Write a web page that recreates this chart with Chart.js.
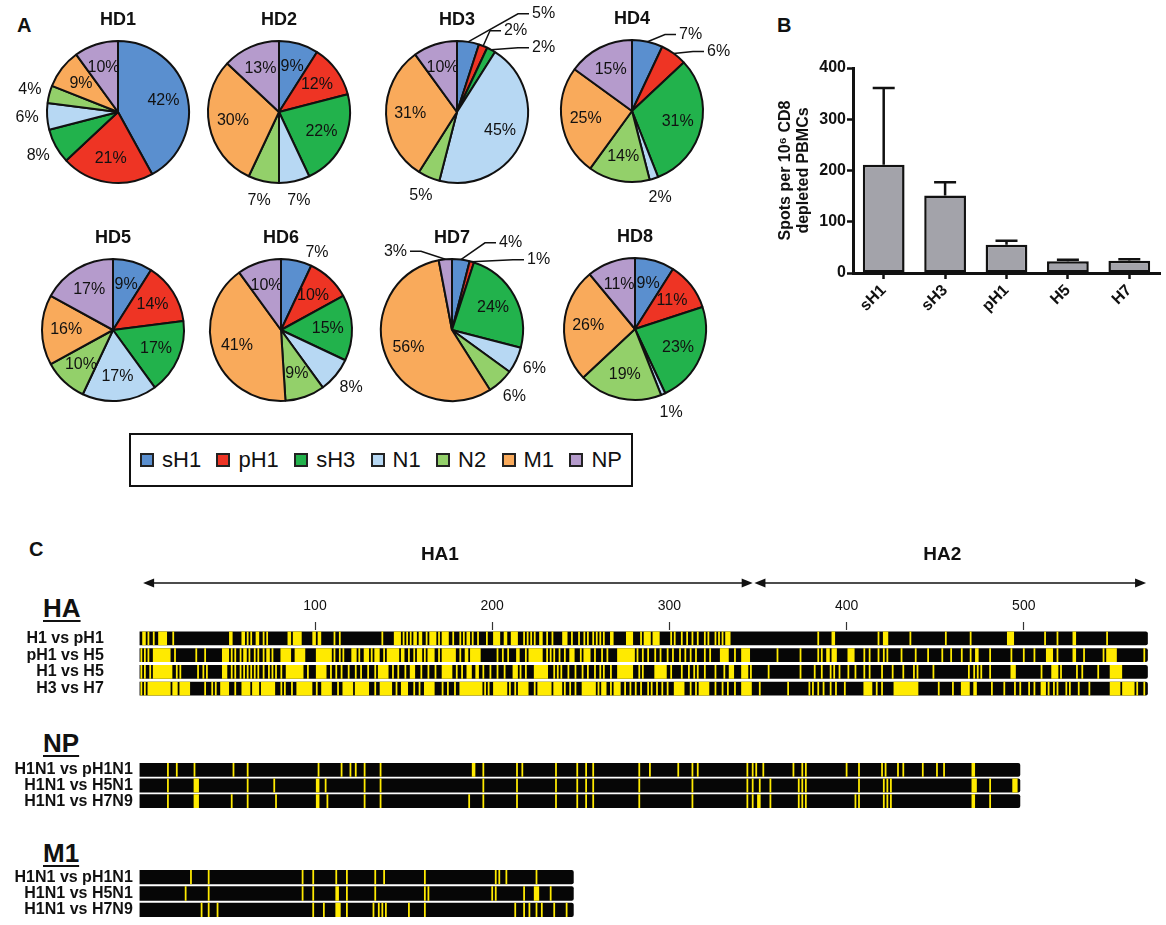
<!DOCTYPE html>
<html lang="en">
<head>
<meta charset="utf-8">
<title>Influenza antigen responses</title>
<script src="https://cdn.jsdelivr.net/npm/chart.js@4.4.1/dist/chart.umd.min.js"></script>
<style>
  html, body { margin: 0; padding: 0; background: #fff; }
  #figure { position: relative; width: 1166px; height: 925px; overflow: hidden; background: #fff;
            font-family: "Liberation Sans", Arial, Helvetica, sans-serif; color: #111; }
  #figure canvas { position: absolute; }
  .tag { position: absolute; font-weight: bold; line-height: 1; white-space: nowrap; }
  .panel { font-size: 20px; }
  .gene { font-size: 26px; text-decoration: underline; text-decoration-thickness: 2px; text-underline-offset: 3px; }
  #legend { position: absolute; left: 129px; top: 433px; width: 504px; height: 54px; box-sizing: border-box;
            border: 2px solid #111; display: flex; align-items: center; justify-content: space-between; padding: 0 9px; }
  .item { display: flex; align-items: center; font-size: 22px; line-height: 1; }
  .swatch { width: 14px; height: 14px; box-sizing: border-box; border: 2px solid #222; margin-right: 8px; }
</style>
</head>
<body>
<div id="figure">
  <div class="tag panel" style="left:17px;top:15px">A</div>
  <div class="tag panel" style="left:777px;top:15px">B</div>
  <div class="tag panel" style="left:29px;top:539px">C</div>
  <div class="tag gene" style="left:43px;top:595px">HA</div>
  <div class="tag gene" style="left:43px;top:730px">NP</div>
  <div class="tag gene" style="left:43px;top:840px">M1</div>
  <div id="legend"></div>

  <canvas id="hd1" width="240" height="230" style="left:-2px;top:-3px"></canvas>
  <canvas id="hd2" width="240" height="230" style="left:159px;top:-3px"></canvas>
  <canvas id="hd3" width="240" height="230" style="left:337px;top:-3px"></canvas>
  <canvas id="hd4" width="240" height="230" style="left:512px;top:-4px"></canvas>
  <canvas id="hd5" width="240" height="230" style="left:-7px;top:215px"></canvas>
  <canvas id="hd6" width="240" height="230" style="left:161px;top:215px"></canvas>
  <canvas id="hd7" width="240" height="230" style="left:332px;top:215px"></canvas>
  <canvas id="hd8" width="240" height="230" style="left:515px;top:214px"></canvas>

  <canvas id="spots" width="426" height="300" style="left:740px;top:40px"></canvas>

  <canvas id="haMap" width="1166" height="170" style="left:0;top:530px"></canvas>
  <canvas id="npMap" width="1166" height="58" style="left:0;top:755px"></canvas>
  <canvas id="m1Map" width="1166" height="60" style="left:0;top:862px"></canvas>
</div>

<script>
// ---- panel A : antigen share per donor (%) ----
const antigens = ['sH1', 'pH1', 'sH3', 'N1', 'N2', 'M1', 'NP'];
const antigenColors = ['#5A8FCF', '#EE3424', '#22B24C', '#B7D8F3', '#93D06A', '#F9AA5B', '#B59BCC'];
const donors = ['HD1', 'HD2', 'HD3', 'HD4', 'HD5', 'HD6', 'HD7', 'HD8'];
const hd1 = [42, 21, 8, 6, 4, 9, 10];
const hd2 = [9, 12, 22, 7, 7, 30, 13];
const hd3 = [5, 2, 2, 45, 5, 31, 10];
const hd4 = [7, 6, 31, 2, 14, 25, 15];
const hd5 = [9, 14, 17, 17, 10, 16, 17];
const hd6 = [7, 10, 15, 8, 9, 41, 10];
const hd7 = [4, 1, 24, 6, 6, 56, 3];
const hd8 = [9, 11, 23, 1, 19, 26, 11];
const donorShares = [hd1, hd2, hd3, hd4, hd5, hd6, hd7, hd8];

// ---- panel B : spots per 10^6 CD8 depleted PBMCs ----
const stimuli = ['sH1', 'sH3', 'pH1', 'H5', 'H7'];
const spotMeans = [211, 151, 55, 23, 24];
const spotSem = [150, 26, 8, 3, 3];
const spotTicks = [0, 100, 200, 300, 400];

// ---- panel C : residues that differ between strains ----
const haRows = ['H1 vs pH1', 'pH1 vs H5', 'H1 vs H5', 'H3 vs H7'];
const haLength = 570;
const haTicks = [100, 200, 300, 400, 500];
const haDomains = ['HA1', 'HA2'];
const haDomainStart = [3, 348];
const haDomainEnd = [347, 569];

const haH1vsPH1 = [[3,4],[6,6],[9,9],[12,16],[20,20],[52,53],[59,60],[62,62],[64,64],[67,68],[71,71],[73,73],[85,86],[88,92],[99,100],[102,103],[111,111],[114,114],[138,138],[145,148],[150,150],[152,152],[154,154],[156,157],[159,160],[163,163],[165,168],[170,170],[172,175],[178,178],[182,182],[184,184],[186,187],[189,189],[192,192],[197,197],[201,204],[207,208],[211,214],[218,218],[220,220],[222,222],[224,224],[227,228],[231,231],[234,234],[240,242],[245,245],[249,249],[252,252],[254,254],[257,257],[259,259],[261,261],[263,263],[267,268],[276,279],[284,284],[286,289],[291,294],[301,301],[303,303],[307,307],[310,310],[313,313],[316,316],[320,320],[322,322],[326,326],[328,328],[330,330],[332,334],[384,384],[392,393],[418,418],[421,423],[436,436],[456,456],[470,470],[491,494],[512,512],[519,519],[528,529],[547,547]];
const haPH1vsH5 = [[2,2],[4,4],[6,6],[9,18],[21,21],[33,33],[38,38],[48,51],[53,53],[55,55],[58,58],[60,61],[63,63],[66,66],[68,68],[71,71],[73,74],[76,76],[81,86],[89,94],[101,109],[111,111],[114,114],[116,116],[121,123],[125,125],[128,130],[132,132],[134,136],[139,139],[141,147],[149,150],[153,153],[156,156],[158,160],[162,162],[164,167],[170,170],[172,179],[182,182],[185,186],[188,193],[203,203],[206,206],[209,209],[214,215],[219,219],[221,228],[231,231],[233,233],[235,235],[238,238],[241,241],[244,246],[250,250],[252,255],[258,258],[262,262],[265,265],[271,280],[282,282],[285,285],[288,288],[292,292],[295,295],[299,299],[302,302],[306,306],[309,309],[312,312],[315,315],[320,320],[323,323],[329,333],[337,337],[341,345],[361,361],[374,374],[384,384],[386,386],[389,390],[392,394],[401,404],[410,410],[413,413],[418,418],[421,421],[423,423],[431,431],[439,439],[446,446],[454,454],[459,459],[465,465],[470,470],[473,474],[481,481],[493,493],[500,500],[506,506],[513,516],[519,519],[528,529],[534,534],[545,545],[547,552],[568,568]];
const haH1vsH5 = [[2,2],[4,4],[7,7],[9,19],[22,22],[24,24],[34,34],[37,37],[39,39],[48,50],[53,53],[55,55],[58,58],[60,60],[62,62],[64,64],[66,66],[68,68],[71,71],[74,74],[76,76],[78,78],[81,81],[84,93],[96,96],[101,106],[109,109],[112,112],[115,115],[119,119],[123,123],[126,126],[130,130],[134,134],[136,141],[144,144],[147,147],[151,151],[154,156],[160,160],[164,164],[168,168],[172,177],[180,180],[183,183],[186,188],[191,192],[195,195],[199,199],[203,203],[207,207],[212,214],[216,216],[219,219],[224,231],[235,235],[237,237],[239,239],[243,243],[247,247],[251,251],[254,254],[258,258],[261,261],[263,263],[267,267],[271,279],[283,283],[285,285],[292,298],[301,301],[307,307],[311,311],[314,314],[316,316],[320,320],[326,326],[331,331],[334,336],[341,344],[346,346],[356,356],[374,374],[382,382],[386,386],[391,391],[393,393],[396,396],[401,401],[405,405],[410,410],[413,413],[420,420],[426,426],[432,432],[438,438],[440,440],[449,449],[469,469],[472,472],[474,474],[476,476],[481,481],[493,495],[510,510],[516,519],[521,521],[530,530],[533,533],[542,542],[549,555]];
const haH3vsH7 = [[2,2],[4,4],[6,18],[20,22],[24,29],[38,38],[42,42],[44,44],[47,51],[55,55],[59,63],[65,68],[70,77],[81,81],[83,83],[87,87],[90,98],[101,101],[104,109],[113,113],[116,121],[123,130],[134,134],[137,143],[146,146],[149,152],[156,156],[159,159],[162,167],[172,172],[175,175],[179,179],[182,194],[196,196],[198,198],[201,208],[210,210],[213,213],[215,220],[224,224],[226,233],[235,239],[241,241],[244,244],[247,247],[251,258],[260,260],[262,264],[267,267],[269,272],[275,275],[278,278],[281,281],[284,284],[288,288],[290,290],[293,293],[296,296],[299,299],[303,308],[312,312],[315,315],[317,322],[326,326],[330,330],[333,333],[337,337],[341,346],[351,351],[367,367],[379,379],[381,381],[384,384],[387,387],[391,391],[394,394],[399,399],[410,414],[417,417],[420,420],[427,440],[452,452],[460,460],[465,469],[472,473],[482,482],[489,489],[495,495],[498,498],[503,503],[506,506],[510,512],[514,514],[517,517],[519,519],[524,524],[526,526],[531,531],[537,537],[549,554],[556,562],[564,564],[568,568]];

const npRows = ['H1N1 vs pH1N1', 'H1N1 vs H5N1', 'H1N1 vs H7N9'];
const npLength = 498;
const npPH1N1 = [[17,17],[22,22],[32,32],[54,54],[62,62],[102,102],[115,115],[120,120],[123,123],[128,128],[137,137],[189,190],[195,195],[214,214],[217,217],[236,236],[248,248],[253,253],[257,257],[283,283],[289,289],[305,305],[313,313],[316,316],[344,344],[347,347],[349,349],[353,353],[370,370],[375,375],[377,377],[400,400],[407,407],[420,420],[422,422],[429,429],[432,432],[443,443],[451,451],[455,455],[471,472]];
const npH5N1 = [[17,17],[32,34],[62,62],[77,77],[101,102],[106,106],[128,128],[137,137],[195,195],[214,214],[236,236],[248,248],[253,253],[257,257],[283,283],[313,313],[344,344],[347,347],[351,351],[357,357],[373,373],[375,375],[377,377],[407,407],[421,421],[423,423],[425,425],[471,473],[481,481],[494,496]];
const npH7N9 = [[17,17],[32,34],[53,53],[62,62],[78,78],[101,102],[107,107],[128,128],[137,137],[187,187],[195,195],[214,214],[236,236],[248,248],[253,253],[257,257],[283,283],[313,313],[344,344],[347,347],[350,351],[357,357],[373,373],[375,375],[377,377],[405,405],[407,407],[421,421],[423,423],[425,425],[471,472],[481,481]];

const m1Rows = ['H1N1 vs pH1N1', 'H1N1 vs H5N1', 'H1N1 vs H7N9'];
const m1Length = 246;
const m1PH1N1 = [[30,30],[40,40],[93,93],[99,99],[112,112],[118,118],[134,134],[139,139],[162,162],[202,202],[204,204],[208,208],[225,225]];
const m1H5N1 = [[27,27],[40,40],[93,93],[99,99],[112,113],[118,118],[134,134],[162,162],[164,164],[200,200],[202,202],[218,218],[224,226],[233,233]];
const m1H7N9 = [[36,36],[40,40],[45,45],[99,99],[105,105],[112,114],[118,118],[133,133],[136,136],[138,138],[140,140],[153,153],[162,162],[213,213],[218,218],[221,221],[225,225],[228,228],[235,235],[242,242]];

const FONT = '"Liberation Sans", Arial, Helvetica, sans-serif';
Chart.defaults.font.family = FONT;
Chart.defaults.color = '#111';
Chart.defaults.animation = false;
Chart.defaults.plugins.legend.display = false;
Chart.defaults.plugins.tooltip.enabled = false;

// legend box under the pies
const legendBox = document.getElementById('legend');
antigens.forEach((name, i) => {
    const item = document.createElement('div');
    item.className = 'item';
    item.innerHTML = '<span class="swatch" style="background:' + antigenColors[i] + '"></span>' + name;
    legendBox.appendChild(item);
});

// percentages, donor title and leader lines for small slices
const sliceLabels = {
    id: 'sliceLabels',
    afterDatasetsDraw(chart, args, opts) {
        const ctx = chart.ctx;
        const arcs = chart.getDatasetMeta(0).data;
        const values = chart.data.datasets[0].data;
        const n = values.length;
        const cx = arcs[0].x, cy = arcs[0].y, r = arcs[0].outerRadius;
        ctx.save();
        ctx.fillStyle = '#111';
        ctx.strokeStyle = '#111';
        ctx.lineWidth = 1.5;
        ctx.textBaseline = 'middle';
        ctx.textAlign = 'center';
        ctx.font = 'bold 18px ' + FONT;
        ctx.fillText(opts.title, cx, cy - r - 21);
        ctx.font = '16px ' + FONT;

        const right = [], left = [];
        arcs.forEach((arc, i) => {
            const v = values[i];
            const mid = (arc.startAngle + arc.endAngle) / 2;
            const text = v + '%';
            if (v >= 9) {
                ctx.fillText(text, cx + Math.cos(mid) * r * 0.66, cy + Math.sin(mid) * r * 0.66);
                return;
            }
            let fromTop = (mid + Math.PI / 2) * 180 / Math.PI;
            if (fromTop > 180) fromTop -= 360;
            const crowded = values[(i + n - 1) % n] < 9 || values[(i + 1) % n] < 9;
            if (Math.abs(fromTop) < 45 && crowded) {
                const e = { x: cx + Math.cos(mid) * r, y: cy + Math.sin(mid) * r, text, fromTop };
                (fromTop >= 0 ? right : left).push(e);
                return;
            }
            let lx = cx + Math.cos(mid) * (r + 20);
            let ly = cy + Math.sin(mid) * (r + 20);
            if (ly < cy - r + 10) {
                // keep clear of the donor title
                lx = cx + Math.sign(fromTop) * Math.max(Math.abs(lx - cx), 36);
                ly = cy - r - 6;
            }
            ctx.fillText(text, lx, ly);
        });

        right.sort((a, b) => b.fromTop - a.fromTop);
        let prevY = Infinity;
        right.forEach((e, j) => {
            const y = Math.min(e.y - 2, prevY - 17);
            prevY = y;
            const tx = cx + (j % 2 === 0 ? 75 : 47);
            ctx.beginPath();
            ctx.moveTo(e.x, e.y);
            ctx.lineTo(tx - 14, y);
            ctx.lineTo(tx - 3, y);
            ctx.stroke();
            ctx.textAlign = 'left';
            ctx.fillText(e.text, tx, y);
        });

        left.sort((a, b) => a.fromTop - b.fromTop);
        prevY = Infinity;
        left.forEach((e, j) => {
            const y = Math.min(e.y - 8, prevY - 17);
            prevY = y;
            const tx = cx - (j % 2 === 0 ? 45 : 70);
            ctx.beginPath();
            ctx.moveTo(e.x, e.y);
            ctx.lineTo(tx + 14, y);
            ctx.lineTo(tx + 3, y);
            ctx.stroke();
            ctx.textAlign = 'right';
            ctx.fillText(e.text, tx, y);
        });
        ctx.restore();
    }
};

donors.forEach((name, k) => {
    new Chart(document.getElementById(name.toLowerCase()), {
        type: 'pie',
        data: {
            labels: antigens,
            datasets: [{
                data: donorShares[k],
                backgroundColor: antigenColors,
                borderColor: '#111',
                borderWidth: 2
            }]
        },
        options: {
            responsive: false,
            radius: 71,
            layout: { padding: 0 },
            plugins: { sliceLabels: { title: name } }
        },
        plugins: [sliceLabels]
    });
});

// error bars (mean + SEM, upper whisker only)
const errorBars = {
    id: 'errorBars',
    afterDatasetsDraw(chart) {
        const ctx = chart.ctx;
        const yScale = chart.scales.y;
        ctx.save();
        ctx.strokeStyle = '#111';
        ctx.lineWidth = 2.5;
        chart.getDatasetMeta(0).data.forEach((bar, i) => {
            const top = yScale.getPixelForValue(spotMeans[i] + spotSem[i]);
            ctx.beginPath();
            ctx.moveTo(bar.x, bar.y);
            ctx.lineTo(bar.x, top);
            ctx.moveTo(bar.x - 11, top);
            ctx.lineTo(bar.x + 11, top);
            ctx.stroke();
        });
        ctx.restore();
    }
};

const axisGrid = { display: true, drawOnChartArea: false, drawTicks: true, tickLength: 6, tickWidth: 2.5, tickColor: '#111', offset: false };
const axisBorder = { display: true, color: '#111', width: 3 };

new Chart(document.getElementById('spots'), {
    type: 'bar',
    data: {
        labels: stimuli,
        datasets: [{
            data: spotMeans,
            backgroundColor: '#A3A3AA',
            borderColor: '#111',
            borderWidth: 2.5,
            borderSkipped: false,
            categoryPercentage: 1,
            barPercentage: 0.68
        }]
    },
    options: {
        responsive: false,
        layout: { padding: { top: 28, right: 6, left: 0, bottom: 0 } },
        scales: {
            x: {
                grid: axisGrid,
                border: axisBorder,
                ticks: { color: '#111', font: { size: 16, weight: 'bold' }, maxRotation: 45, minRotation: 45, autoSkip: false, padding: 2 },
                afterFit(axis) { axis.height = 67; }
            },
            y: {
                min: 0,
                max: 400,
                grid: axisGrid,
                border: axisBorder,
                ticks: { color: '#111', font: { size: 16, weight: 'bold' }, padding: 1 },
                afterBuildTicks(axis) { axis.ticks = spotTicks.map(value => ({ value })); },
                title: {
                    display: true,
                    text: ['Spots per 10\u2076 CD8', 'depleted PBMCs'],
                    color: '#111',
                    font: { size: 16, weight: 'bold', lineHeight: 1.1 },
                    padding: { top: 37, bottom: 0 }
                },
                afterFit(axis) { axis.width = 113; }
            }
        }
    },
    plugins: [errorBars]
});

// HA1 / HA2 double arrows above the HA map
const domainArrows = {
    id: 'domainArrows',
    afterDraw(chart) {
        const ctx = chart.ctx;
        const x = chart.scales.x;
        const y = chart.chartArea.top - 47;
        ctx.save();
        ctx.strokeStyle = '#111';
        ctx.fillStyle = '#111';
        ctx.lineWidth = 1.5;
        ctx.font = 'bold 19px ' + FONT;
        ctx.textAlign = 'center';
        ctx.textBaseline = 'middle';
        const head = (tip, dir) => {
            ctx.beginPath();
            ctx.moveTo(tip, y);
            ctx.lineTo(tip + dir * 11, y - 4.5);
            ctx.lineTo(tip + dir * 11, y + 4.5);
            ctx.closePath();
            ctx.fill();
        };
        haDomains.forEach((name, i) => {
            const x0 = x.getPixelForValue(haDomainStart[i]);
            const x1 = x.getPixelForValue(haDomainEnd[i]);
            ctx.beginPath();
            ctx.moveTo(x0 + 8, y);
            ctx.lineTo(x1 - 8, y);
            ctx.stroke();
            head(x0, 1);
            head(x1, -1);
            ctx.fillText(name, (x0 + x1) / 2 - 8, chart.chartArea.top - 75);
        });
        ctx.restore();
    }
};

function alignmentChart(id, rows, length, diffs, cfg) {
    const datasets = [{
        data: rows.map(row => ({ x: [1, length], y: row })),
        backgroundColor: '#060606',
        borderRadius: 2,
        grouped: false,
        categoryPercentage: 1,
        barPercentage: cfg.barRatio,
        order: 1
    }];
    diffs.forEach((list, k) => {
        datasets.push({
            data: list.map(([s, e]) => ({ x: [s - 0.5, e + 0.5], y: rows[k] })),
            backgroundColor: '#FFEA00',
            grouped: false,
            categoryPercentage: 1,
            barPercentage: cfg.barRatio,
            order: 0
        });
    });

    const xAxis = { type: 'linear', min: 0, max: 575, position: 'top', display: false };
    if (cfg.ticks) {
        Object.assign(xAxis, {
            display: true,
            grid: { display: true, drawOnChartArea: false, drawTicks: true, tickLength: 8, tickWidth: 1.2, tickColor: '#333' },
            border: { display: false },
            ticks: { color: '#111', font: { size: 14 }, padding: 7 },
            afterBuildTicks(axis) { axis.ticks = cfg.ticks.map(value => ({ value })); },
            afterFit(axis) { axis.height = 100; }
        });
    }

    return new Chart(document.getElementById(id), {
        type: 'bar',
        data: { datasets },
        options: {
            responsive: false,
            indexAxis: 'y',
            layout: { padding: { left: 0, right: 9.3, top: cfg.padTop, bottom: cfg.padBottom } },
            scales: {
                x: xAxis,
                y: {
                    type: 'category',
                    labels: rows,
                    grid: { display: false, drawTicks: false },
                    border: { display: false },
                    ticks: { color: '#111', font: { size: 16, weight: 'bold', lineHeight: 1 }, padding: cfg.labelPad, autoSkip: false },
                    afterFit(axis) {
                        axis.width = 137.8;
                        axis.paddingTop = 0;
                        axis.paddingBottom = 0;
                    }
                }
            }
        },
        plugins: cfg.ticks ? [domainArrows] : []
    });
}

alignmentChart('haMap', haRows, haLength, [haH1vsPH1, haPH1vsH5, haH1vsH5, haH3vsH7],
    { barRatio: 0.82, padTop: 0, padBottom: 3, labelPad: 34, ticks: haTicks });
alignmentChart('npMap', npRows, npLength, [npPH1N1, npH5N1, npH7N9],
    { barRatio: 0.88, padTop: 7, padBottom: 4, labelPad: 5 });
alignmentChart('m1Map', m1Rows, m1Length, [m1PH1N1, m1H5N1, m1H7N9],
    { barRatio: 0.88, padTop: 7, padBottom: 4, labelPad: 5 });
</script>
</body>
</html>
